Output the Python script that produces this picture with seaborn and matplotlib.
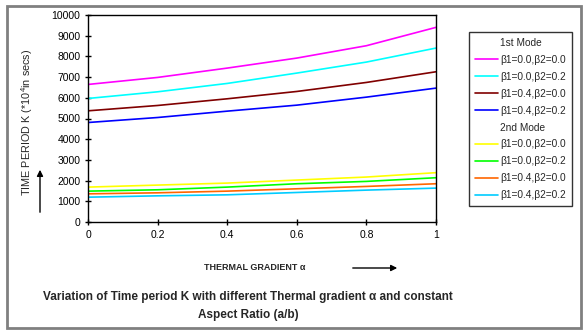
import matplotlib
matplotlib.use('Agg')
import matplotlib.pyplot as plt
from matplotlib.lines import Line2D
from matplotlib.patches import Rectangle
import seaborn as sns
import pandas as pd

# thermal gradient alpha
alpha = [0.0, 0.2, 0.4, 0.6, 0.8, 1.0]

# 1st mode
m1_b00_b00 = [6645, 6984, 7435, 7919, 8516, 9403]
m1_b00_b02 = [5968, 6290, 6694, 7194, 7726, 8403]
m1_b04_b00 = [5371, 5629, 5952, 6306, 6742, 7258]
m1_b04_b02 = [4806, 5048, 5355, 5645, 6032, 6468]

# 2nd mode
m2_b00_b00 = [1686, 1783, 1880, 2026, 2172, 2383]
m2_b00_b02 = [1491, 1556, 1686, 1848, 1961, 2139]
m2_b04_b00 = [1361, 1410, 1491, 1604, 1718, 1848]
m2_b04_b02 = [1199, 1264, 1313, 1426, 1540, 1637]

labels = ['β1=0.0,β2=0.0', 'β1=0.0,β2=0.2', 'β1=0.4,β2=0.0', 'β1=0.4,β2=0.2']
colors_m1 = ['#FF00FF', '#00FFFF', '#800000', '#0000FF']
colors_m2 = ['#FFFF00', '#00FF00', '#FF6600', '#00CCFF']

series = {
    '1st ' + labels[0]: m1_b00_b00,
    '1st ' + labels[1]: m1_b00_b02,
    '1st ' + labels[2]: m1_b04_b00,
    '1st ' + labels[3]: m1_b04_b02,
    '2nd ' + labels[0]: m2_b00_b00,
    '2nd ' + labels[1]: m2_b00_b02,
    '2nd ' + labels[2]: m2_b04_b00,
    '2nd ' + labels[3]: m2_b04_b02,
}
palette = dict(zip(series.keys(), colors_m1 + colors_m2))

rows = []
for name, vals in series.items():
    for a, k in zip(alpha, vals):
        rows.append({'alpha': a, 'K': k, 'series': name})
df = pd.DataFrame(rows)

sns.set_style('ticks')
plt.rcParams['font.family'] = ['Liberation Sans', 'DejaVu Sans']
plt.rcParams['mathtext.fontset'] = 'custom'
plt.rcParams['mathtext.rm'] = 'Liberation Sans'

fig = plt.figure(figsize=(5.85, 3.32), dpi=100)
ax = fig.add_axes([88 / 585, 1 - 222 / 332, (436 - 88) / 585, (222 - 15) / 332])

sns.lineplot(data=df, x='alpha', y='K', hue='series', palette=palette,
             linewidth=1.2, legend=False, ax=ax)

ax.set_xlim(0, 1)
ax.set_ylim(0, 10000)
ax.set_xticks([0, 0.2, 0.4, 0.6, 0.8, 1])
ax.set_xticklabels(['0', '0.2', '0.4', '0.6', '0.8', '1'])
ax.set_yticks(range(0, 10001, 1000))
ax.tick_params(direction='inout', length=5, width=1, labelsize=7.5, colors='black', pad=3)
for sp in ax.spines.values():
    sp.set_color('black')
    sp.set_linewidth(1)
    sp.set_visible(True)
ax.set_xlabel('')
ax.set_ylabel('')

# axis labels with arrows
fig.text(27 / 585, 1 - 122 / 332, 'TIME PERIOD K (*10$^4$in secs)', rotation=90,
         ha='center', va='center', fontsize=7.8)
fig.text(255 / 585, 1 - 267 / 332, 'THERMAL GRADIENT α', ha='center', va='center',
         fontsize=6.5, fontweight='bold')
fig.add_artist(matplotlib.patches.FancyArrowPatch(
    (40 / 585, 1 - 215 / 332), (40 / 585, 1 - 167 / 332), transform=fig.transFigure,
    arrowstyle='-|>', mutation_scale=9, color='black', lw=1))
fig.add_artist(matplotlib.patches.FancyArrowPatch(
    (350 / 585, 1 - 268 / 332), (400 / 585, 1 - 268 / 332), transform=fig.transFigure,
    arrowstyle='-|>', mutation_scale=9, color='black', lw=1))

fig.text(248 / 585, 1 - 297 / 332,
         'Variation of Time period K with different Thermal gradient α and constant',
         ha='center', va='center', fontsize=8.5, fontweight='bold')
fig.text(248 / 585, 1 - 315 / 332, 'Aspect Ratio (a/b)',
         ha='center', va='center', fontsize=8.5, fontweight='bold')

# legend with mode headers
handles = [Line2D([], [], color='none')]
handles += [Line2D([], [], color=c, lw=1.2) for c in colors_m1]
handles += [Line2D([], [], color='none')]
handles += [Line2D([], [], color=c, lw=1.2) for c in colors_m2]
leg_labels = ['1st Mode'] + labels + ['2nd Mode'] + labels
leg = fig.legend(handles, leg_labels, loc='upper left',
                 bbox_to_anchor=(469 / 585, 1 - 32 / 332), fontsize=7.3,
                 frameon=True, fancybox=False, labelspacing=0.68,
                 handlelength=2.3, handletextpad=0.2, borderpad=0.6,
                 borderaxespad=0)
leg.get_frame().set_edgecolor('black')
leg.get_frame().set_linewidth(1)

# outer chart border
fig.add_artist(Rectangle((7 / 585, 4 / 332), 574 / 585, 322 / 332,
                         transform=fig.transFigure, fill=False,
                         edgecolor='#808080', lw=2))

fig.savefig('out.png', dpi=100)
